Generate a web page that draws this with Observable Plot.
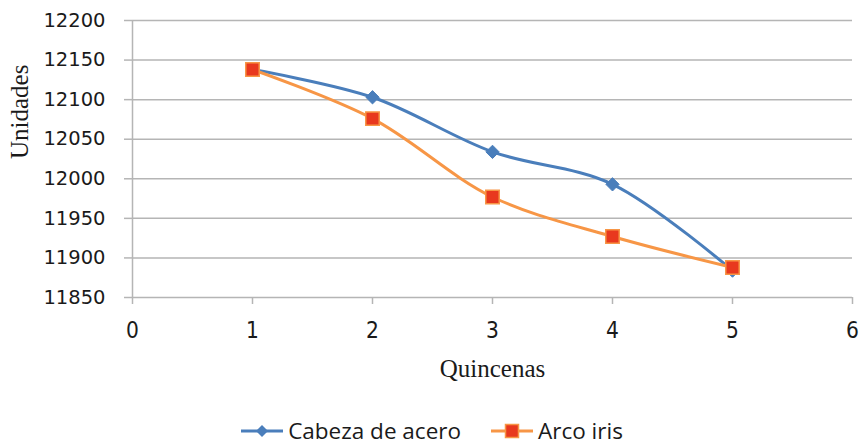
<!DOCTYPE html>
<html>
<head>
<meta charset="utf-8">
<script src="https://cdn.jsdelivr.net/npm/d3@7"></script>
<script src="https://cdn.jsdelivr.net/npm/@observablehq/plot@0.6"></script>
<style>
  body { margin: 0; background: #fff; }
  #chart svg { display: block; }
  .legend { display: flex; justify-content: center; align-items: center; height: 29px; padding-top: 16px; font-family: "Open Sans", "DejaVu Sans", sans-serif; font-size: 22.5px; color: #1a1a1a; gap: 30px; }
  .item { display: flex; align-items: center; gap: 5px; }
  .item svg { display: block; }
</style>
</head>
<body>
<div id="chart"></div>
<div class="legend" id="legend"></div>
<script>
const quincenas = [1, 2, 3, 4, 5];
const cabezaDeAcero = [12138, 12103, 12034, 11993, 11884];
const arcoIris = [12138, 12076, 11977, 11927, 11888];
const seriesNames = ["Cabeza de acero", "Arco iris"];
const xTicks = [0, 1, 2, 3, 4, 5, 6];
const yTicks = [11850, 11900, 11950, 12000, 12050, 12100, 12150, 12200];

const blue = "#4a7ebb";
const orange = "#f79646";
const red = "#e8381e";
const gray = "#b5b5b5";

const dataA = quincenas.map((q, i) => ({q, v: cabezaDeAcero[i]}));
const dataB = quincenas.map((q, i) => ({q, v: arcoIris[i]}));

const plot = Plot.plot({
  width: 864,
  height: 400,
  marginLeft: 132,
  marginRight: 12,
  marginTop: 20,
  marginBottom: 103,
  x: {domain: [0, 6], ticks: xTicks},
  y: {domain: [11850, 12200], ticks: yTicks},
  marks: [
    Plot.gridY(yTicks, {stroke: gray, strokeOpacity: 1, strokeWidth: 1.5}),
    Plot.ruleX([0], {stroke: gray, strokeWidth: 1.5}),
    Plot.axisY(yTicks, {tickSize: 8, stroke: gray, strokeWidth: 1.5, tickPadding: 19, tickFormat: d => String(d), fontSize: 19.5, fontFamily: "DejaVu Sans", fill: "#1a1a1a", label: null}),
    Plot.axisX(xTicks, {tickSize: 7, stroke: gray, strokeWidth: 1.5, tickPadding: 18, tickFormat: d => String(d), fontSize: 22.5, fontFamily: "DejaVu Sans Condensed", fill: "#1a1a1a", label: null}),
    Plot.text(["Unidades"], {frameAnchor: "left", dx: -113, rotate: -90, fontFamily: "Liberation Serif", fontSize: 25, fill: "#1a1a1a"}),
    Plot.text(["Quincenas"], {x: 3, y: 11850, dy: 71, fontFamily: "Liberation Serif", fontSize: 25, fill: "#1a1a1a"}),
    Plot.line(dataA, {x: "q", y: "v", stroke: blue, strokeWidth: 3, curve: "catmull-rom"}),
    Plot.dot(dataA, {x: "q", y: "v", symbol: "diamond2", r: 6, fill: blue, stroke: blue, strokeWidth: 1}),
    Plot.line(dataB, {x: "q", y: "v", stroke: orange, strokeWidth: 3, curve: "catmull-rom"}),
    Plot.dot(dataB, {x: "q", y: "v", symbol: "square", r: 7.6, fill: red, stroke: orange, strokeWidth: 1.5})
  ]
});
document.getElementById("chart").appendChild(plot);

const legend = document.getElementById("legend");
const swatches = [
  {name: seriesNames[0], line: blue, fill: blue, stroke: blue, shape: "diamond"},
  {name: seriesNames[1], line: orange, fill: red, stroke: orange, shape: "square"}
];
for (const s of swatches) {
  const item = document.createElement("div");
  item.className = "item";
  const marker = s.shape === "diamond"
    ? `<path d="M21,4 L27,10 L21,16 L15,10 Z" fill="${s.fill}"/>`
    : `<rect x="14.5" y="3.5" width="13" height="13" fill="${s.fill}" stroke="${s.stroke}" stroke-width="1.5"/>`;
  item.innerHTML = `<svg width="42" height="20"><line x1="0" y1="10" x2="42" y2="10" stroke="${s.line}" stroke-width="3"/>${marker}</svg><span>${s.name}</span>`;
  legend.appendChild(item);
}
</script>
</body>
</html>
